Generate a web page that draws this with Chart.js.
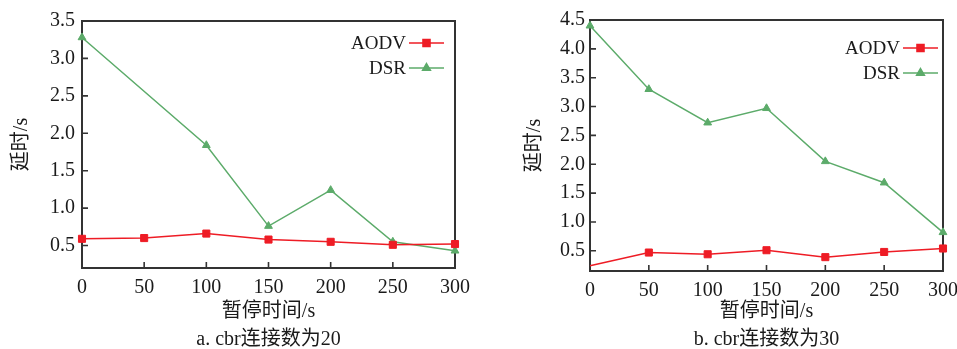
<!DOCTYPE html>
<html>
<head>
<meta charset="utf-8">
<script src="https://cdn.jsdelivr.net/npm/chart.js@4.4.0/dist/chart.umd.min.js"></script>
<style>
html, body { margin: 0; padding: 0; background: #fff; overflow: hidden; }
#wrap { position: relative; width: 957px; height: 349px; overflow: hidden; }
.box { position: absolute; top: 0; height: 349px; }
</style>
</head>
<body>
<div id="wrap">
    <div class="box" style="left:0; width:478px;"><canvas id="chartA"></canvas></div>
    <div class="box" style="left:478px; width:500px;"><canvas id="chartB"></canvas></div>
</div>
<script>
// pause time (s) on the x axis
const pauseTimes = [0, 50, 100, 150, 200, 250, 300];
// a. 20 cbr connections
const aodvA = [0.59, 0.60, 0.66, 0.58, 0.55, 0.51, 0.52];
const dsrA = [3.28, null, 1.84, 0.76, 1.24, 0.55, 0.43];
// b. 30 cbr connections
const aodvB = [0.24, 0.47, 0.44, 0.51, 0.39, 0.48, 0.54];
const dsrB = [4.40, 3.30, 2.72, 2.97, 2.05, 1.68, 0.82];

const xTicks = [0, 50, 100, 150, 200, 250, 300];
const yTicksA = [0.5, 1.0, 1.5, 2.0, 2.5, 3.0, 3.5];
const yTicksB = [0.5, 1.0, 1.5, 2.0, 2.5, 3.0, 3.5, 4.0, 4.5];

const xTitle = '暂停时间/s';
const yTitle = '延时/s';
const captionA = 'a. cbr连接数为20';
const captionB = 'b. cbr连接数为30';

const FONT = "'Liberation Serif', 'Noto Sans CJK SC', serif";
const RED = '#ee1c25';
const GREEN = '#5cab6a';
const AXIS = '#333';

// box around plot area + inward tick marks (drawn under the lines)
const frame_plugin = {
    id: 'frame_plugin',
    beforeDatasetsDraw(chart) {
        const { ctx, chartArea: a, scales: { x, y } } = chart;
        ctx.save();
        ctx.strokeStyle = AXIS;
        ctx.lineWidth = 1.6;
        ctx.beginPath();
        x.ticks.forEach(t => {
            let px = x.getPixelForValue(t.value);
            ctx.moveTo(px, a.bottom);
            ctx.lineTo(px, a.bottom - 6);
        });
        y.ticks.forEach(t => {
            let py = y.getPixelForValue(t.value);
            ctx.moveTo(a.left, py);
            ctx.lineTo(a.left + 6, py);
        });
        ctx.stroke();
        ctx.lineWidth = 2;
        ctx.strokeRect(a.left, a.top, a.right - a.left, a.bottom - a.top);
        ctx.restore();
    }
};

// gnuplot style key: label on the left, sample line with marker on the right
const key_plugin = {
    id: 'key_plugin',
    afterDraw(chart, args, opts) {
        const { ctx, chartArea: a } = chart;
        let lineEnd = a.right - opts.right;
        let lineStart = lineEnd - 35;
        ctx.save();
        ctx.font = '19px ' + FONT;
        ctx.textAlign = 'right';
        ctx.textBaseline = 'middle';
        chart.data.datasets.forEach((ds, i) => {
            let yy = a.top + opts.top + i * 25;
            ctx.fillStyle = '#1a1a1a';
            ctx.fillText(ds.label, lineStart - 3, yy + 1);
            ctx.strokeStyle = ds.borderColor;
            ctx.lineWidth = 1.5;
            ctx.beginPath();
            ctx.moveTo(lineStart, yy);
            ctx.lineTo(lineEnd, yy);
            ctx.stroke();
            ctx.fillStyle = ds.pointBackgroundColor;
            ctx.strokeStyle = ds.pointBorderColor;
            Chart.helpers.drawPoint(ctx, {
                pointStyle: ds.pointStyle,
                radius: ds.keyRadius,
                rotation: 0,
                borderWidth: 1
            }, (lineStart + lineEnd) / 2, yy);
        });
        ctx.restore();
    }
};

function make_chart(id, aodv, dsr, yMin, yMax, yTicks, caption, lay) {
    let ctx = document.getElementById(id);
    return new Chart(ctx, {
        type: 'line',
        data: {
            labels: pauseTimes,
            datasets: [
                {
                    label: 'AODV',
                    data: aodv,
                    borderColor: RED,
                    borderWidth: 1.5,
                    pointStyle: 'rect',
                    pointRadius: c => (lay.hideFirstAodv && c.dataIndex === 0) ? 0 : 5,
                    keyRadius: 5,
                    pointBackgroundColor: RED,
                    pointBorderColor: RED,
                    pointBorderWidth: 1,
                    tension: 0,
                    clip: false
                },
                {
                    label: 'DSR',
                    data: dsr,
                    borderColor: GREEN,
                    borderWidth: 1.5,
                    pointStyle: 'triangle',
                    pointRadius: 4.5,
                    keyRadius: 4.5,
                    pointBackgroundColor: GREEN,
                    pointBorderColor: GREEN,
                    pointBorderWidth: 1,
                    spanGaps: true,
                    tension: 0,
                    clip: false
                }
            ]
        },
        options: {
            responsive: true,
            maintainAspectRatio: false,
            animation: false,
            layout: { padding: { top: lay.top, right: lay.right, left: 0, bottom: 0 } },
            scales: {
                x: {
                    type: 'linear',
                    min: 0,
                    max: 300,
                    afterBuildTicks: s => { s.ticks = xTicks.map(v => ({ value: v })); },
                    afterFit: s => { s.height = lay.xHeight; },
                    grid: { display: false, drawTicks: false },
                    border: { display: false },
                    ticks: {
                        padding: 8,
                        maxRotation: 0,
                        color: '#1a1a1a',
                        font: { family: FONT, size: 20 }
                    },
                    title: {
                        display: true,
                        text: [xTitle, caption],
                        color: '#1a1a1a',
                        font: { family: FONT, size: 20, lineHeight: 1.4 },
                        padding: { top: 0, bottom: -5 }
                    }
                },
                y: {
                    type: 'linear',
                    min: yMin,
                    max: yMax,
                    afterBuildTicks: s => { s.ticks = yTicks.map(v => ({ value: v })); },
                    afterFit: s => { s.width = lay.yWidth; },
                    grid: { display: false, drawTicks: false },
                    border: { display: false },
                    ticks: {
                        padding: lay.yPad,
                        color: '#1a1a1a',
                        font: { family: FONT, size: 20 },
                        callback: v => v.toFixed(1)
                    },
                    title: {
                        display: true,
                        text: yTitle,
                        color: '#1a1a1a',
                        font: { family: FONT, size: 20, lineHeight: 1.0 },
                        padding: { top: lay.yTitlePad, bottom: 0 }
                    }
                }
            },
            plugins: {
                legend: { display: false },
                tooltip: { enabled: false },
                key_plugin: { right: lay.keyRight, top: lay.keyTop }
            }
        },
        plugins: [frame_plugin, key_plugin]
    });
}

make_chart('chartA', aodvA, dsrA, 0.2, 3.5, yTicksA, captionA, {
    top: 21, right: 22, xHeight: 81, yWidth: 82, yPad: 7, yTitlePad: 12,
    keyRight: 11, keyTop: 22, hideFirstAodv: false
});
make_chart('chartB', aodvB, dsrB, 0.15, 4.5, yTicksB, captionB, {
    top: 20, right: 35, xHeight: 78, yWidth: 112, yPad: 5, yTitlePad: 47,
    keyRight: 5, keyTop: 28, hideFirstAodv: true
});
</script>
</body>
</html>
